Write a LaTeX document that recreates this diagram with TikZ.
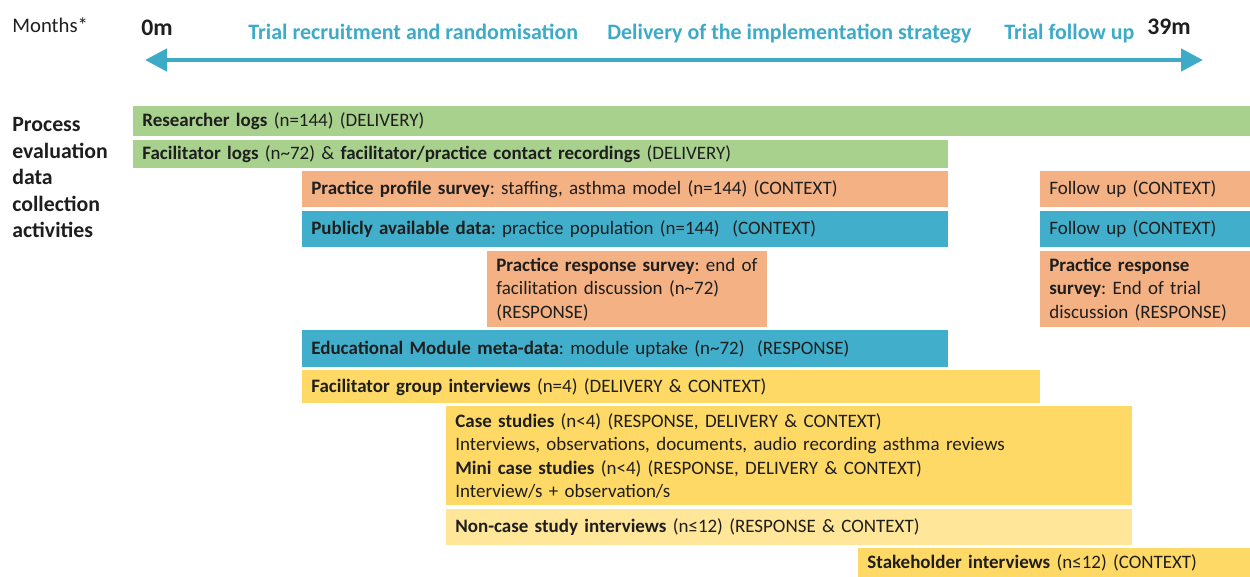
\documentclass[tikz,border=0pt]{standalone}
\usepackage{fontspec}
\setmainfont{Carlito}
\usepackage{xcolor}
\usetikzlibrary{positioning, arrows.meta}

\definecolor{logsgreen}{HTML}{A9D18E}
\definecolor{ctxorange}{HTML}{F4B183}
\definecolor{ctxblue}{HTML}{41AFCB}
\definecolor{intyellow}{HTML}{FFD966}
\definecolor{intpale}{HTML}{FFE699}
\definecolor{phaseteal}{HTML}{3DAAC8}
\definecolor{inktext}{HTML}{1E1E1E}

\newlength{\pix}
\setlength{\pix}{0.2mm}
\frenchspacing

\begin{document}
\begin{tikzpicture}[x=\pix, y=-\pix]
	% Define styles
	\tikzset{
		act/.style={anchor=north west, inner xsep=9\pix, inner ysep=0pt, align=left, text=inktext, font=\fontsize{10.8}{13.4}\selectfont},
		phase/.style={anchor=base west, inner sep=0pt, text=phaseteal, font=\fontsize{12.5}{15}\selectfont\bfseries},
		hdr/.style={anchor=base west, inner sep=0pt, text=inktext, font=\fontsize{13.5}{16}\selectfont\bfseries},
		timeline/.style={draw=phaseteal, line width=0.9mm, {Triangle[length=4.4mm, width=4.4mm]}-{Triangle[length=4.4mm, width=4.4mm]}}
	}
	
	\useasboundingbox (0,0) rectangle (1250,576);
	
	% Header
	\node[anchor=base west, inner sep=0pt, text=inktext, font=\fontsize{11.8}{14}\selectfont] (months) at (12,32) {Months*};
	\node[hdr] (m0) at (141,35) {0m};
	\node[phase] (recruit) at (248,39) {Trial recruitment and randomisation};
	\node[phase] (deliver) at (607,39) {Delivery of the implementation strategy};
	\node[phase] (follow) at (1004,39) {Trial follow up};
	\node[hdr] (m39) at (1147,34) {39m};
	
	\coordinate (tstart) at (145,60);
	\coordinate (tend) at (1203,60);
	\draw[timeline] (tstart) -- (tend);
	
	\node[anchor=north west, inner sep=0pt, align=left, text=inktext, font=\fontsize{12.4}{15.1}\selectfont\bfseries] (activities) at (12,117) {Process\\ evaluation\\ data\\ collection\\ activities};
	
	% Nodes
	\node[act, fill=logsgreen, text width=1109\pix, minimum height=30\pix] (reslog) at (133,106) {\textbf{Researcher logs} (n=144) (DELIVERY)};
	\node[act, fill=logsgreen, text width=797\pix, minimum height=28\pix] (faclog) at (133,140) {\textbf{Facilitator logs} (n\textasciitilde72) \& \textbf{facilitator/practice contact recordings} (DELIVERY)};
	
	\node[act, fill=ctxorange, text width=628\pix, minimum height=36\pix] (profile) at (302,171) {\textbf{Practice profile survey}: staffing, asthma model (n=144) (CONTEXT)};
	\node[act, fill=ctxblue, text width=628\pix, minimum height=36\pix] (public) at (302,211) {\textbf{Publicly available data}: practice population (n=144) \ (CONTEXT)};
	\node[act, fill=ctxorange, text width=202\pix, minimum height=36\pix] (profilefu) at (1040,171) {Follow up (CONTEXT)};
	\node[act, fill=ctxblue, text width=202\pix, minimum height=36\pix] (publicfu) at (1040,211) {Follow up (CONTEXT)};
	
	\node[act, fill=ctxorange, text width=262\pix, minimum height=76\pix] (respfac) at (487,251) {\textbf{Practice response survey}: end of\\ facilitation discussion (n\textasciitilde72)\\ (RESPONSE)};
	\node[act, fill=ctxorange, text width=202\pix, minimum height=76\pix] (respend) at (1040,251) {\textbf{Practice response}\\ \textbf{survey}: End of trial\\ discussion (RESPONSE)};
	
	\node[act, fill=ctxblue, text width=628\pix, minimum height=37\pix] (module) at (302,330) {\textbf{Educational Module meta-data}: module uptake (n\textasciitilde72) \ (RESPONSE)};
	\node[act, fill=intyellow, text width=720\pix, minimum height=33\pix] (facgroup) at (302,370) {\textbf{Facilitator group interviews} (n=4) (DELIVERY \& CONTEXT)};
	
	\node[act, fill=intyellow, text width=668\pix, minimum height=99\pix] (casest) at (446,406) {\textbf{Case studies} (n<4) (RESPONSE, DELIVERY \& CONTEXT)\\ Interviews, observations, documents, audio recording asthma reviews\\ \textbf{Mini case studies} (n<4) (RESPONSE, DELIVERY \& CONTEXT)\\ Interview/s + observation/s};
	\node[act, fill=intpale, text width=668\pix, minimum height=36\pix] (noncase) at (446,509) {\textbf{Non-case study interviews} (n≤12) (RESPONSE \& CONTEXT)};
	\node[act, fill=intyellow, text width=384\pix, minimum height=30\pix] (stake) at (858,548) {\textbf{Stakeholder interviews} (n≤12) (CONTEXT)};
	
\end{tikzpicture}
\end{document}
